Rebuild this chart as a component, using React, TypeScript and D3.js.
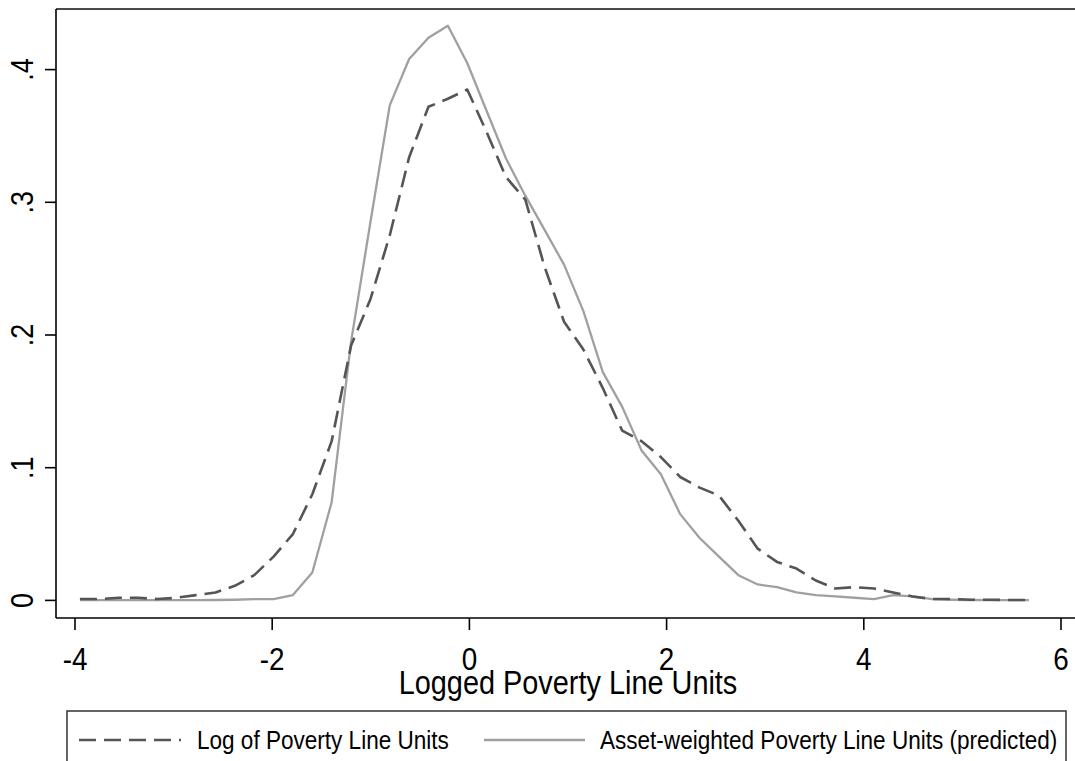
import React from "react";
import * as d3 from "d3";

// x grid of the kernel density estimates (Logged Poverty Line Units)
const xGrid = [
  -3.95, -3.754, -3.557, -3.361, -3.164, -2.968, -2.772, -2.575, -2.379, -2.182,
  -1.986, -1.79, -1.593, -1.397, -1.2, -1.004, -0.808, -0.611, -0.415, -0.218,
  -0.022, 0.174, 0.371, 0.567, 0.764, 0.96, 1.156, 1.353, 1.549, 1.746,
  1.942, 2.138, 2.335, 2.531, 2.728, 2.924, 3.12, 3.317, 3.513, 3.71,
  3.906, 4.102, 4.299, 4.495, 4.692, 4.888, 5.084, 5.281, 5.477, 5.674,
];

// density: Log of Poverty Line Units (dashed)
const logPLU = [
  0.001, 0.001, 0.002, 0.002, 0.001, 0.002, 0.004, 0.006, 0.011, 0.019,
  0.033, 0.05, 0.08, 0.12, 0.192, 0.227, 0.275, 0.334, 0.372, 0.378,
  0.385, 0.353, 0.319, 0.302, 0.251, 0.21, 0.189, 0.16, 0.128, 0.12,
  0.108, 0.093, 0.085, 0.079, 0.06, 0.039, 0.029, 0.024, 0.015, 0.009,
  0.01, 0.009, 0.006, 0.003, 0.001, 0.001, 0.0005, 0.0005, 0.0003, 0.0003,
];

// density: Asset-weighted Poverty Line Units (predicted) (solid)
const assetPLU = [
  0.0003, 0.0002, 0.0002, 0.0002, 0.0002, 0.0002, 0.0002, 0.0003, 0.0005, 0.001,
  0.001, 0.004, 0.021, 0.074, 0.195, 0.285, 0.373, 0.408, 0.424, 0.433,
  0.405, 0.369, 0.333, 0.305, 0.279, 0.253, 0.218, 0.172, 0.146, 0.113,
  0.095, 0.065, 0.047, 0.033, 0.019, 0.012, 0.01, 0.006, 0.004, 0.003,
  0.002, 0.001, 0.004, 0.003, 0.001, 0.0005, 0.0003, 0.0002, 0.0002, 0.0002,
];

const xTicks = [-4, -2, 0, 2, 4, 6];
const yTicks = [0, 0.1, 0.2, 0.3, 0.4];
const yTickLabels = ["0", ".1", ".2", ".3", ".4"];
const xTitle = "Logged Poverty Line Units";
const legendLabels = [
  "Log of Poverty Line Units",
  "Asset-weighted Poverty Line Units (predicted)",
];

const W = 1075;
const H = 761;
const FONT = "'Liberation Sans', Arial, Helvetica, sans-serif";
const CONDENSE = 0.87;

export default function App() {
  const x = d3.scaleLinear().domain([-4, 6]).range([75, 1061]);
  const y = d3.scaleLinear().domain([0, 0.4]).range([600.4, 69.6]);
  const plotLeft = 56;
  const plotTop = 9;
  const plotBottom = 618;

  const line = d3
    .line<number>()
    .x((_, i) => x(xGrid[i]))
    .y((d) => y(d));

  return (
    <svg
      width={W}
      height={H}
      style={{ position: "absolute", left: 0, top: 0, background: "#fff" }}
      fontFamily={FONT}
    >
      <rect x={0} y={0} width={W} height={H} fill="#fff" />
      {/* frame */}
      <line x1={plotLeft} x2={W} y1={plotTop} y2={plotTop} stroke="#4a4a4a" strokeWidth={2.2} />
      <line x1={plotLeft} x2={plotLeft} y1={plotTop} y2={plotBottom} stroke="#000" strokeWidth={1.6} />
      <line x1={plotLeft} x2={W} y1={plotBottom} y2={plotBottom} stroke="#000" strokeWidth={1.6} />

      {/* y ticks */}
      {yTicks.map((t, i) => (
        <g key={"y" + i}>
          <line x1={45} x2={plotLeft} y1={y(t)} y2={y(t)} stroke="#000" strokeWidth={1.6} />
          <text
            transform={`translate(33,${y(t)}) rotate(-90) scale(${CONDENSE},1)`}
            textAnchor="middle"
            fontSize={31}
            fill="#000"
          >
            {yTickLabels[i]}
          </text>
        </g>
      ))}

      {/* x ticks */}
      {xTicks.map((t) => (
        <g key={"x" + t}>
          <line x1={x(t)} x2={x(t)} y1={plotBottom} y2={630} stroke="#000" strokeWidth={1.6} />
          <text
            transform={`translate(${x(t)},670) scale(${CONDENSE},1)`}
            textAnchor="middle"
            fontSize={32}
            fill="#000"
          >
            {t}
          </text>
        </g>
      ))}
      <text
        transform={`translate(568,694) scale(0.875,1)`}
        textAnchor="middle"
        fontSize={33}
        fill="#000"
      >
        {xTitle}
      </text>

      {/* series */}
      <path
        d={line(assetPLU) || ""}
        fill="none"
        stroke="#a0a0a0"
        strokeWidth={2.3}
        strokeLinejoin="round"
      />
      <path
        d={line(logPLU) || ""}
        fill="none"
        stroke="#555555"
        strokeWidth={2.6}
        strokeDasharray="17 8"
        strokeLinejoin="round"
      />

      {/* legend */}
      <rect x={67} y={711} width={999} height={80} fill="none" stroke="#333" strokeWidth={1.5} />
      <line x1={79} x2={181} y1={740} y2={740} stroke="#555555" strokeWidth={2.6} strokeDasharray="17 8" />
      <text transform={`translate(197,749) scale(0.867,1)`} fontSize={26} fill="#000">
        {legendLabels[0]}
      </text>
      <line x1={484} x2={585} y1={740} y2={740} stroke="#a0a0a0" strokeWidth={2.6} />
      <text transform={`translate(600,749) scale(0.867,1)`} fontSize={26} fill="#000">
        {legendLabels[1]}
      </text>
    </svg>
  );
}
